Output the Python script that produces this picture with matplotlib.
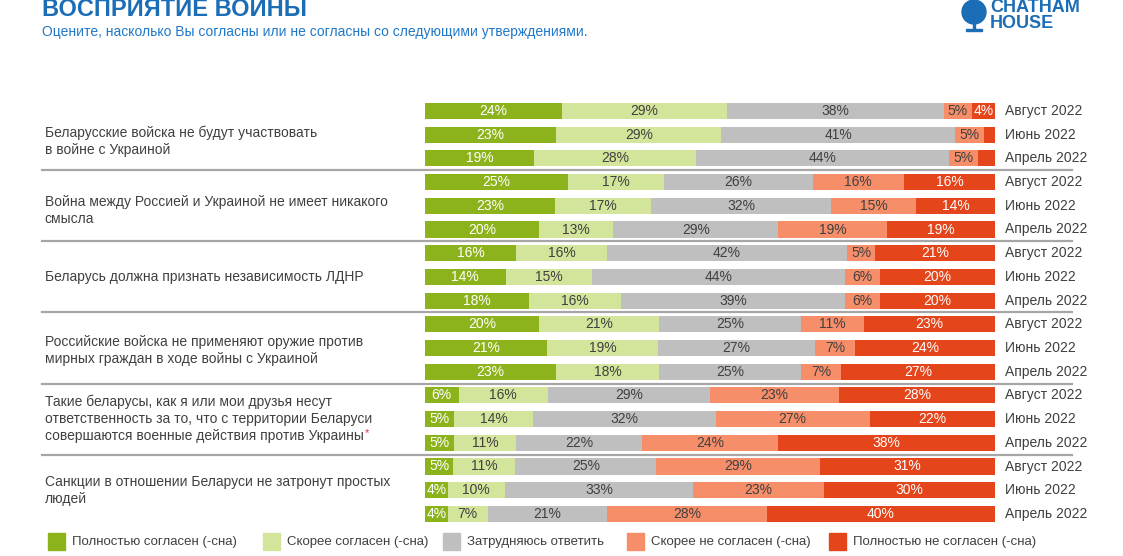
import matplotlib
matplotlib.use("Agg")
import matplotlib.pyplot as plt
from matplotlib.patches import Rectangle, Ellipse
import numpy as np

plt.rcParams['font.family'] = ['Liberation Sans', 'DejaVu Sans']

statements = [
    "Беларусские войска не будут участвовать\nв войне с Украиной",
    "Война между Россией и Украиной не имеет никакого\nсмысла",
    "Беларусь должна признать независимость ЛДНР",
    "Российские войска не применяют оружие против\nмирных граждан в ходе войны с Украиной",
    "Такие беларусы, как я или мои друзья несут\nответственность за то, что с территории Беларуси\nсовершаются военные действия против Украины",
    "Санкции в отношении Беларуси не затронут простых\nлюдей",
]
waves = ["Август 2022", "Июнь 2022", "Апрель 2022"]
categories = ["Полностью согласен (-сна)", "Скорее согласен (-сна)", "Затрудняюсь ответить",
              "Скорее не согласен (-сна)", "Полностью не согласен (-сна)"]

fully_agree = [24, 23, 19, 25, 23, 20, 16, 14, 18, 20, 21, 23, 6, 5, 5, 5, 4, 4]
rather_agree = [29, 29, 28, 17, 17, 13, 16, 15, 16, 21, 19, 18, 16, 14, 11, 11, 10, 7]
hard_to_say = [38, 41, 44, 26, 32, 29, 42, 44, 39, 25, 27, 25, 29, 32, 22, 25, 33, 21]
rather_disagree = [5, 5, 5, 16, 15, 19, 5, 6, 6, 11, 7, 7, 23, 27, 24, 29, 23, 28]
fully_disagree = [4, 2, 3, 16, 14, 19, 21, 20, 20, 23, 24, 27, 28, 22, 38, 31, 30, 40]

colors = ["#8db31c", "#d3e59b", "#bfbfbf", "#f68e6a", "#e5451a"]
text_colors = ["white", "#404040", "#404040", "#404040", "white"]

W, H = 1123, 556
fig = plt.figure(figsize=(W / 100, H / 100), dpi=100)

# axes placement (pixel based)
x0, x1 = 425, 995
row0, step = 111, 23.7
nrows = len(fully_agree)
ytop = row0 - 0.5 * step
ybot = row0 + (nrows - 0.5) * step
ax = fig.add_axes([x0 / W, 1 - ybot / H, (x1 - x0) / W, (ybot - ytop) / H])

data = np.array([fully_agree, rather_agree, hard_to_say, rather_disagree, fully_disagree], dtype=float)
totals = data.sum(axis=0)
scaled = data / totals * 100
y = np.arange(nrows)
left = np.zeros(nrows)
for k in range(5):
    ax.barh(y, scaled[k], left=left, height=0.68, color=colors[k], edgecolor='none')
    for i in range(nrows):
        v = data[k, i]
        if v >= 4:
            ax.text(left[i] + scaled[k, i] / 2, y[i], f"{int(v)}%", ha='center', va='center',
                    fontsize=10, color=text_colors[k])
    left += scaled[k]

ax.set_xlim(0, 100)
ax.set_ylim(nrows - 0.5, -0.5)
ax.axis('off')

# wave labels
for i in range(nrows):
    ax.text(100 + 10 / 5.7, y[i], waves[i % 3], ha='left', va='center', fontsize=10, color='#404040')

# separators
sep_x0 = (42 - x0) / (x1 - x0) * 100
sep_x1 = (1072 - x0) / (x1 - x0) * 100
for g in range(1, len(statements)):
    yy = g * 3 - 0.5
    ax.plot([sep_x0, sep_x1], [yy, yy], color='#a6a6a6', lw=1.6, clip_on=False)

# statement labels, one text per line
offsets = [0.3, 0.2, 0.0, 0.1, 0.0, 0.0]
line_gap = 0.72
last_line = None
for g, s in enumerate(statements):
    lines = s.split("\n")
    n = len(lines)
    for j, ln in enumerate(lines):
        yy = g * 3 + 1 + offsets[g] + (j - (n - 1) / 2) * line_gap
        t = ax.text(sep_x0 + 0.5, yy, ln, ha='left', va='center', fontsize=10, color='#404040')
        if g == 4 and j == n - 1:
            last_line = (t, yy)

# red asterisk right after the last line of statement 5
fig.canvas.draw()
t, yy = last_line
bb = t.get_window_extent(renderer=fig.canvas.get_renderer())
xd = ax.transData.inverted().transform((bb.x1, bb.y0))[0]
ax.text(xd + 0.2, yy - 0.12, "*", color='#e0303a', fontsize=8, ha='left', va='center')

# title
fig.text(42 / W, 1 - 10 / H, "ВОСПРИЯТИЕ ВОЙНЫ", fontsize=17, fontweight='bold', color='#1b6db5',
         ha='left', va='center')
fig.text(42 / W, 1 - 32 / H, "Оцените, насколько Вы согласны или не согласны со следующими утверждениями.",
         fontsize=10, color='#1f78c8', ha='left', va='center')

# logo
fig.add_artist(Ellipse((974 / W, 1 - 12 / H), 24 / W, 24 / H, transform=fig.transFigure, color='#1b6db5'))
fig.add_artist(Rectangle((966 / W, 1 - 31 / H), 16 / W, 2 / H, transform=fig.transFigure, color='#1b6db5'))
fig.add_artist(Rectangle((973 / W, 1 - 30 / H), 2 / W, 6 / H, transform=fig.transFigure, color='#1b6db5'))
fig.text(990 / W, 1 - 8 / H, "CHATHAM", fontsize=13, fontweight='bold', color='#1b6db5', ha='left', va='center')
fig.text(990 / W, 1 - 23 / H, "HOUSE", fontsize=13, fontweight='bold', color='#1b6db5', ha='left', va='center')

# legend
sq_x = [48, 263, 443, 627, 829]
for k in range(5):
    fig.add_artist(Rectangle((sq_x[k] / W, 1 - 550 / H), 17 / W, 17 / H, transform=fig.transFigure,
                             color=colors[k]))
    fig.text((sq_x[k] + 24) / W, 1 - 542 / H, categories[k], fontsize=9.5, color='#404040',
             ha='left', va='center')

fig.savefig("out.png", dpi=100)
